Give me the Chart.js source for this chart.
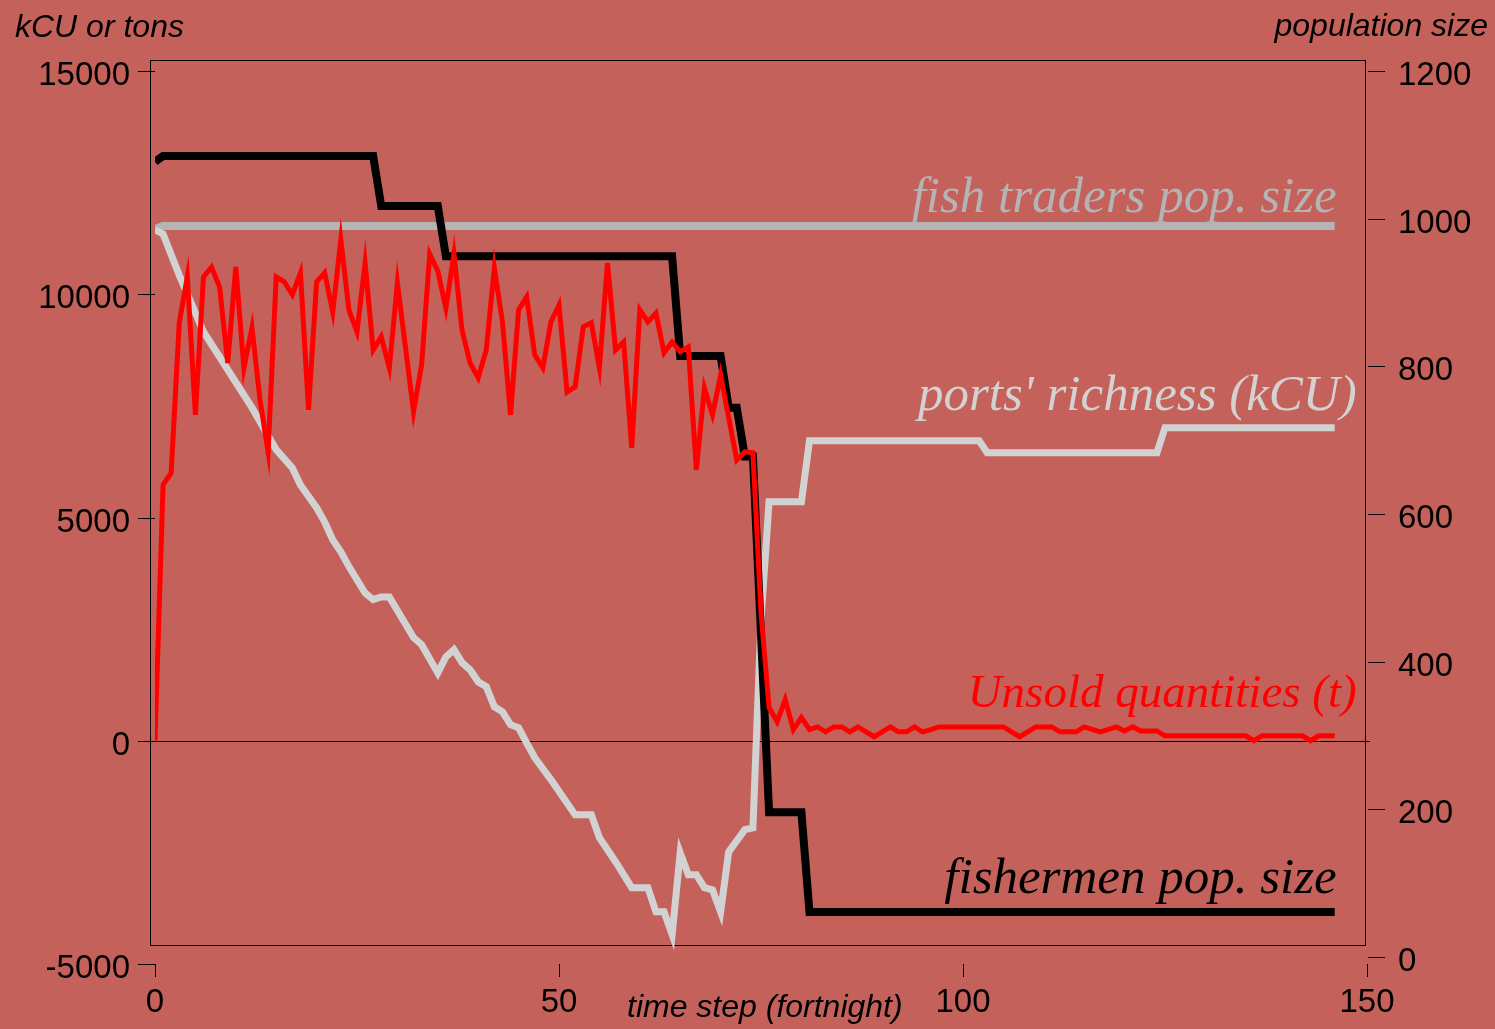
<!DOCTYPE html>
<html>
<head>
<meta charset="utf-8">
<title>Fishery simulation</title>
<script src="https://cdn.jsdelivr.net/npm/chart.js@4.4.1/dist/chart.umd.min.js"></script>
<style>
  html, body { margin: 0; padding: 0; background: #C4615B; }
  #wrap { width: 1495px; height: 1029px; }
  canvas { display: block; background: #C4615B; }
</style>
</head>
<body>
<div id="wrap"><canvas id="chart" width="1495" height="1029"></canvas></div>
<script>
// Unsold quantities (t), left axis
const unsoldSteps = [0,1,2,3,4,5,6,7,8,9,10,11,12,13,14,15,16,17,18,19,20,21,22,23,24,25,26,27,28,29,30,
  32,33,34,35,36,37,38,39,40,41,42,43,44,45,46,47,48,49,50,51,52,53,54,55,56,57,58,59,60,61,62,63,64,65,66,67,68,69,70,
  72,73,74,75,76,77,78,79,80,81,82,83,84,85,86,87,88,89,90,91,92,93,94,95,96,97,
  105,106,107,108,109,111,112,114,115,117,119,120,121,122,124,125,135,136,137,142,143,144,146];
const unsoldTons = [0,5730,6000,9360,10390,7300,10390,10610,10160,8460,10610,8350,9250,7630,6470,10390,10280,9990,10480,7410,10280,10480,9600,11220,9650,9160,10700,8750,9050,8350,10250,
  7370,8420,10900,10520,9690,10900,9200,8460,8130,8750,10590,9380,7300,9650,9940,8640,8350,9380,9760,7810,7930,9270,9360,8350,10700,8750,8930,6560,9650,9380,9580,8690,8930,8710,8820,6070,7900,7300,8190,
  6290,6470,6450,2870,740,430,920,250,520,250,310,200,310,310,200,310,200,90,200,310,200,200,310,200,250,310,
  310,200,90,200,310,310,200,200,310,200,310,220,310,220,220,110,110,0,110,110,0,110,110];

// Ports' richness (kCU), left axis
const richnessSteps = [0,1,3,6,12,15,17,18,20,21,22,23,24,26,27,28,29,32,33,35,36,37,38,39,40,41,42,43,44,45,
  46,47,49,52,54,55,57,59,61,62,63,64,65,66,67,68,69,70,71,73,74,75,76,80,81,102,103,124,125,146];
const richnessKCU = [11440,11350,10430,9160,7460,6520,6110,5730,5220,4900,4500,4230,3900,3310,3160,3220,3220,2310,2150,1520,1880,2040,1750,1590,1320,1210,760,650,360,290,
  -50,-380,-870,-1660,-1660,-2170,-2710,-3290,-3290,-3830,-3830,-4340,-2510,-3000,-3000,-3290,-3340,-3830,-2490,-1990,-1950,2710,5350,5350,6720,6720,6450,6450,7010,7010];

// Fishermen population, right axis
const fishermenSteps = [0,1,27,28,35,36,64,65,70,71,72,73,74,76,80,81,146];
const fishermenPop = [1077,1085,1085,1017,1017,949,949,814,814,744,744,678,678,196,196,61,61];

// Fish traders population, right axis
const tradersSteps = [0,1,146];
const tradersPop = [986,990,990];

// Axis ticks
const xTicks = [0, 50, 100, 150];
const leftTicks = [-5000, 0, 5000, 10000, 15000];
const rightTicks = [0, 200, 400, 600, 800, 1000, 1200];

const toPoints = (xs, ys) => xs.map((x, i) => ({ x: x, y: ys[i] }));

// Series name placement relative to the last point of each line
const seriesTags = [
  { text: 'Unsold quantities (t)', color: '#ff0000', size: 47, dx: 22, dy: -29 },
  { text: 'fishermen pop. size', color: '#000000', size: 51, dx: 2, dy: -19 },
  { text: "ports' richness (kCU)", color: '#d2d2d2', size: 51, dx: 22, dy: -18 },
  { text: 'fish traders pop. size', color: '#b4b4b4', size: 51, dx: 2, dy: -14 }
];

const sansItalic = 'italic 32px "Liberation Sans", Arial, sans-serif';

const decorations = {
  id: 'decorations',
  beforeDatasetsDraw(chart) {
    const { ctx, chartArea: a, scales } = chart;
    ctx.save();
    ctx.strokeStyle = '#000';
    ctx.lineWidth = 1;
    // plot frame
    ctx.strokeRect(a.left - 4.5, a.top - 10.5, (a.right - 2) - (a.left - 5), (a.bottom - 19) - (a.top - 11));
    // zero line on the left axis
    const y0 = Math.round(scales.y.getPixelForValue(0)) + 0.5;
    ctx.beginPath();
    ctx.moveTo(a.left - 17, y0);
    ctx.lineTo(a.right + 3, y0);
    ctx.stroke();
    // tick marks
    ctx.beginPath();
    leftTicks.forEach(v => {
      const yy = Math.round(scales.y.getPixelForValue(v)) + 0.5;
      ctx.moveTo(a.left - 17, yy); ctx.lineTo(a.left, yy);
    });
    rightTicks.forEach(v => {
      const yy = Math.round(scales.y2.getPixelForValue(v)) + 0.5;
      ctx.moveTo(a.right + 1, yy); ctx.lineTo(a.right + 18, yy);
    });
    xTicks.forEach(v => {
      const xx = Math.round(scales.x.getPixelForValue(v)) + 0.5;
      ctx.moveTo(xx, a.bottom); ctx.lineTo(xx, a.bottom + 13);
    });
    ctx.stroke();
    ctx.restore();
  },
  afterDatasetsDraw(chart) {
    const { ctx } = chart;
    ctx.save();
    ctx.textAlign = 'right';
    ctx.textBaseline = 'alphabetic';
    seriesTags.forEach((tag, i) => {
      const pts = chart.getDatasetMeta(i).data;
      const last = pts[pts.length - 1];
      ctx.font = 'italic ' + tag.size + 'px "Liberation Serif", "Times New Roman", serif';
      ctx.fillStyle = tag.color;
      ctx.fillText(tag.text, last.x + tag.dx, last.y + tag.dy);
    });
    // axis titles
    ctx.font = sansItalic;
    ctx.fillStyle = '#000';
    ctx.textAlign = 'left';
    ctx.fillText('kCU or tons', 15, 37);
    ctx.textAlign = 'right';
    ctx.fillText('population size', 1488, 36);
    ctx.textAlign = 'left';
    ctx.fillText('time step (fortnight)', 627, 1017);
    ctx.restore();
  }
};

const tickFont = { family: '"Liberation Sans", Arial, sans-serif', size: 33 };
const plainNumber = v => String(v);

new Chart(document.getElementById('chart'), {
  type: 'line',
  data: {
    datasets: [
      { label: seriesTags[0].text, data: toPoints(unsoldSteps, unsoldTons), yAxisID: 'y',
        borderColor: '#ff0000', borderWidth: 5 },
      { label: seriesTags[1].text, data: toPoints(fishermenSteps, fishermenPop), yAxisID: 'y2',
        borderColor: '#000000', borderWidth: 8 },
      { label: seriesTags[2].text, data: toPoints(richnessSteps, richnessKCU), yAxisID: 'y',
        borderColor: '#d2d2d2', borderWidth: 7 },
      { label: seriesTags[3].text, data: toPoints(tradersSteps, tradersPop), yAxisID: 'y2',
        borderColor: '#b4b4b4', borderWidth: 8 }
    ]
  },
  options: {
    responsive: false,
    animation: false,
    events: [],
    layout: { padding: { top: 71, left: 0, right: 0, bottom: 0 } },
    elements: {
      point: { radius: 0, hoverRadius: 0 },
      line: { tension: 0, borderJoinStyle: 'miter', borderCapStyle: 'butt', fill: false }
    },
    plugins: { legend: { display: false }, tooltip: { enabled: false }, title: { display: false } },
    scales: {
      x: {
        type: 'linear', position: 'bottom', min: 0, max: 150,
        afterBuildTicks: s => { s.ticks = xTicks.map(v => ({ value: v })); },
        afterFit: s => { s.height = 65; },
        grid: { display: false, drawTicks: false },
        border: { display: false },
        ticks: { padding: 19, color: '#000', font: tickFont, maxRotation: 0, autoSkip: false, callback: plainNumber }
      },
      y: {
        type: 'linear', position: 'left', min: -5000, max: 15000,
        afterBuildTicks: s => { s.ticks = leftTicks.map(v => ({ value: v })); },
        afterFit: s => { s.width = 155; },
        grid: { display: false, drawTicks: false },
        border: { display: false },
        ticks: { padding: 25, labelOffset: 5, color: '#000', font: tickFont, autoSkip: false, callback: plainNumber }
      },
      y2: {
        type: 'linear', position: 'right', min: -9.48, max: 1200,
        afterBuildTicks: s => { s.ticks = rightTicks.map(v => ({ value: v })); },
        afterFit: s => { s.width = 128; },
        grid: { display: false, drawTicks: false },
        border: { display: false },
        ticks: { padding: 31, labelOffset: 5, color: '#000', font: tickFont, autoSkip: false, callback: plainNumber }
      }
    }
  },
  plugins: [decorations]
});
</script>
</body>
</html>
